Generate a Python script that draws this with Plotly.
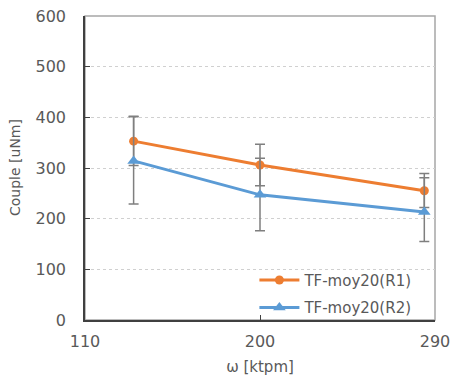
import plotly.graph_objects as go

x_vals = [135, 200, 284.5]
r1_vals = [353, 306, 255]
r1_err_plus = [48, 41, 34]
r1_err_minus = [48, 41, 33]
r2_vals = [314, 247, 213]
r2_err_plus = [88, 72, 68]
r2_err_minus = [85, 71, 58]
series_names = ["TF-moy20(R1)", "TF-moy20(R2)"]
x_ticks = [110, 200, 290]
y_ticks = [0, 100, 200, 300, 400, 500, 600]

FONT = "DejaVu Sans"
TXT = "#595959"
ERR_COLOR = "#7f7f7f"

fig = go.Figure()
fig.add_trace(go.Scatter(
    x=x_vals, y=r1_vals, name=series_names[0], mode="lines+markers", legendgroup="a",
    line=dict(color="#ED7D31", width=3),
    marker=dict(symbol="circle", size=9, color="#ED7D31"),
    error_y=dict(type="data", symmetric=False, array=r1_err_plus, arrayminus=r1_err_minus,
                 color=ERR_COLOR, thickness=1.5, width=5),
))
fig.add_trace(go.Scatter(
    x=x_vals, y=r2_vals, name=series_names[1], mode="lines+markers", legendgroup="b",
    line=dict(color="#5B9BD5", width=3),
    marker=dict(symbol="triangle-up", size=11, color="#5B9BD5"),
    error_y=dict(type="data", symmetric=False, array=r2_err_plus, arrayminus=r2_err_minus,
                 color=ERR_COLOR, thickness=1.5, width=5),
))

fig.update_layout(
    width=459, height=385,
    margin=dict(l=85, r=24, t=16, b=65),
    paper_bgcolor="white", plot_bgcolor="white",
    font=dict(family=FONT, size=16, color=TXT),
    showlegend=True,
    legend=dict(x=0.484, y=0.185, xanchor="left", yanchor="top",
                bgcolor="rgba(255,255,255,0)", borderwidth=0,
                font=dict(family=FONT, size=15, color=TXT),
                traceorder="grouped", tracegroupgap=5, itemwidth=40),
    xaxis=dict(range=[110, 290], tickvals=x_ticks, ticktext=[str(v) for v in x_ticks],
               ticks="inside", ticklen=5, tickcolor="#404040",
               showline=True, linecolor="#404040", linewidth=1.5,
               showgrid=False, zeroline=False, automargin=False,
               title=dict(text="ω [ktpm]", font=dict(size=15, color=TXT), standoff=12),
               ticklabelstandoff=6),
    yaxis=dict(range=[0, 600], tickvals=y_ticks,
               ticks="inside", ticklen=5, tickcolor="#404040",
               showline=True, linecolor="#404040", linewidth=1.5,
               showgrid=True, gridcolor="#d0d0d0", griddash="dot", gridwidth=1,
               zeroline=False, automargin=False, ticklabelstandoff=14),
    shapes=[dict(type="rect", xref="paper", yref="paper", x0=0, x1=1, y0=0, y1=1,
                 line=dict(color="#a6a6a6", width=1.5), layer="below")],
    annotations=[dict(text="Couple [uNm]", xref="paper", yref="paper",
                      x=-0.2, y=0.5, textangle=-90, showarrow=False,
                      font=dict(family=FONT, size=14, color=TXT),
                      xanchor="center", yanchor="middle")],
)

fig.write_html("out.html", config={"displayModeBar": False},
               post_script="document.body.style.margin='0';document.body.style.padding='0';")
